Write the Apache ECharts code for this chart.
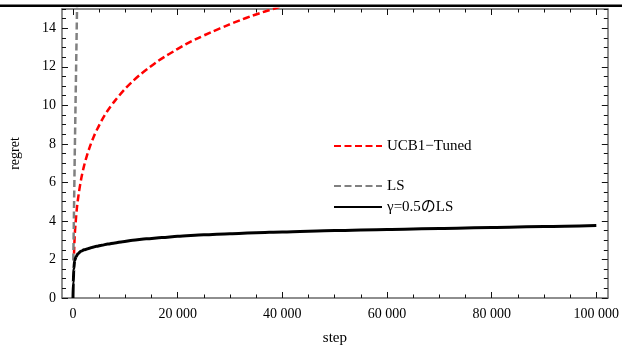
<!DOCTYPE html>
<html>
<head>
<meta charset="utf-8">
<script src="https://cdn.jsdelivr.net/npm/echarts@6/dist/echarts.min.js"></script>
<style>
html,body{margin:0;padding:0;background:#fff;}
#chart{width:622px;height:351px;}
</style>
</head>
<body>
<div id="chart"></div>
<script>
// ---- data ----
var seriesNames = ['UCB1\u2212Tuned', 'LS', '\u03b3=0.5\u306eLS'];

var ucbSteps  = [200, 320, 500, 760, 1100, 1570, 2000, 2520, 3280, 4000, 4740, 5600, 6640, 8000, 9800, 11300, 12950, 14500, 16100, 17800, 19590, 21500, 23380, 26500, 29710, 32000, 34130, 36200, 38240, 40500];
var ucbRegret = [2.3, 3.2, 3.9, 4.7, 5.42, 6.19, 6.73, 7.26, 7.9, 8.4, 8.82, 9.27, 9.73, 10.23, 10.81, 11.22, 11.62, 11.95, 12.27, 12.57, 12.86, 13.16, 13.42, 13.81, 14.18, 14.42, 14.64, 14.83, 15.0, 15.2];

var lsSteps  = [60, 350, 760, 820];
var lsRegret = [1.95, 7.7, 14.8, 15.8];

var gammaSteps  = [0, 60, 150, 320, 600, 950, 1500, 2100, 2840, 3600, 4500, 5500, 6640, 8000, 9500, 11400, 14000, 17000, 20000, 25000, 30000, 35000, 40000, 50000, 60000, 70000, 80000, 90000, 100000];
var gammaRegret = [0, 0.8, 1.5, 1.95, 2.15, 2.3, 2.42, 2.5, 2.56, 2.62, 2.68, 2.74, 2.8, 2.86, 2.92, 3.0, 3.07, 3.14, 3.2, 3.28, 3.34, 3.39, 3.43, 3.5, 3.56, 3.61, 3.66, 3.71, 3.76];

var xTickValues = [0, 20000, 40000, 60000, 80000, 100000];
var yTickValues = [0, 2, 4, 6, 8, 10, 12, 14];

// ---- build ----
function pairs(xs, ys){ return xs.map(function(x,i){ return [x, ys[i]]; }); }
var xMinor = []; for (var v = 5000; v <= 100000; v += 5000) if (v % 20000) xMinor.push(v);
var yMinor = []; for (var w = 0.5; w <= 15; w += 0.5) if (w % 2) yMinor.push(w);

var FONT = "'Liberation Serif', 'Times New Roman', 'Noto Sans CJK JP', serif";
var XMIN = -2100, XMAX = 102200, YMIN = 0, YMAX = 15;
var axisLineStyle = {color: '#6a6a6a', width: 1.5};

function xAxisDef(pos, ticks, len, showLine, labels){
  return {
    type: 'value', position: pos, min: XMIN, max: XMAX,
    axisLine: {show: showLine, onZero: false, lineStyle: axisLineStyle},
    axisTick: {show: true, inside: true, length: len, customValues: ticks, lineStyle: {color: '#111', width: 1}},
    axisLabel: labels ? {show: true, customValues: ticks, margin: 9, color: '#000', fontFamily: FONT, fontSize: 14,
      formatter: function(v){ var s = String(v); return s.length > 3 ? s.slice(0, s.length-3) + ' ' + s.slice(-3) : s; }} : {show: false},
    splitLine: {show: false},
    name: labels && pos === 'bottom' ? 'step' : '', nameLocation: 'middle', nameGap: 33,
    nameTextStyle: {fontFamily: FONT, fontSize: 15, color: '#000'}
  };
}
function yAxisDef(pos, ticks, len, showLine, labels){
  return {
    type: 'value', position: pos, min: YMIN, max: YMAX,
    axisLine: {show: showLine, onZero: false, lineStyle: axisLineStyle},
    axisTick: {show: true, inside: true, length: len, customValues: ticks, lineStyle: {color: '#111', width: 1}},
    axisLabel: labels ? {show: true, customValues: ticks, margin: 6, color: '#000', fontFamily: FONT, fontSize: 14} : {show: false},
    splitLine: {show: false},
    name: labels && pos === 'left' ? 'regret' : '', nameLocation: 'middle', nameGap: 40, nameRotate: 90,
    nameTextStyle: {fontFamily: FONT, fontSize: 14, color: '#000'}
  };
}
function legendDef(name, top){
  return {data: [name], left: 333, top: top, padding: 0, itemWidth: 48, itemHeight: 10, itemGap: 5,
    itemStyle: {opacity: 0, borderWidth: 0},
    textStyle: {fontFamily: FONT, fontSize: 15, color: '#000'}};
}

var chart = echarts.init(document.getElementById('chart'), null, {renderer: 'canvas'});
var dash = [7, 3.5];
chart.setOption({
  animation: false,
  backgroundColor: '#fff',
  grid: {left: 59, right: 13, top: 9, bottom: 46, containLabel: false},
  xAxis: [
    xAxisDef('bottom', xTickValues, 6, true, true),
    xAxisDef('bottom', xMinor, 3.5, false, false),
    xAxisDef('top', xTickValues, 6, true, false),
    xAxisDef('top', xMinor, 3.5, false, false)
  ],
  yAxis: [
    yAxisDef('left', yTickValues, 6, true, true),
    yAxisDef('left', yMinor, 4, false, false),
    yAxisDef('right', yTickValues, 6, true, false),
    yAxisDef('right', yMinor, 4, false, false)
  ],
  legend: [
    legendDef(seriesNames[0], 138.5),
    legendDef(seriesNames[1], 178.5),
    legendDef(seriesNames[2], 199.5)
  ],
  graphic: [
    {type: 'rect', left: 0, top: 4.6, shape: {width: 622, height: 2.3}, style: {fill: '#000'}, silent: true}
  ],
  series: [
    {name: seriesNames[0], type: 'line', data: pairs(ucbSteps, ucbRegret), smooth: 0.3, symbol: 'none',
     color: '#ff0000', lineStyle: {color: '#ff0000', width: 2.5, type: dash}, clip: true, z: 2},
    {name: seriesNames[1], type: 'line', data: pairs(lsSteps, lsRegret), smooth: false, symbol: 'none',
     color: '#808080', lineStyle: {color: '#808080', width: 2.5, type: dash}, clip: true, z: 3},
    {name: seriesNames[2], type: 'line', data: pairs(gammaSteps, gammaRegret), smooth: 0.3, smoothMonotone: 'x', symbol: 'none',
     color: '#000', lineStyle: {color: '#000', width: 3}, clip: true, z: 4}
  ]
});
</script>
</body>
</html>
